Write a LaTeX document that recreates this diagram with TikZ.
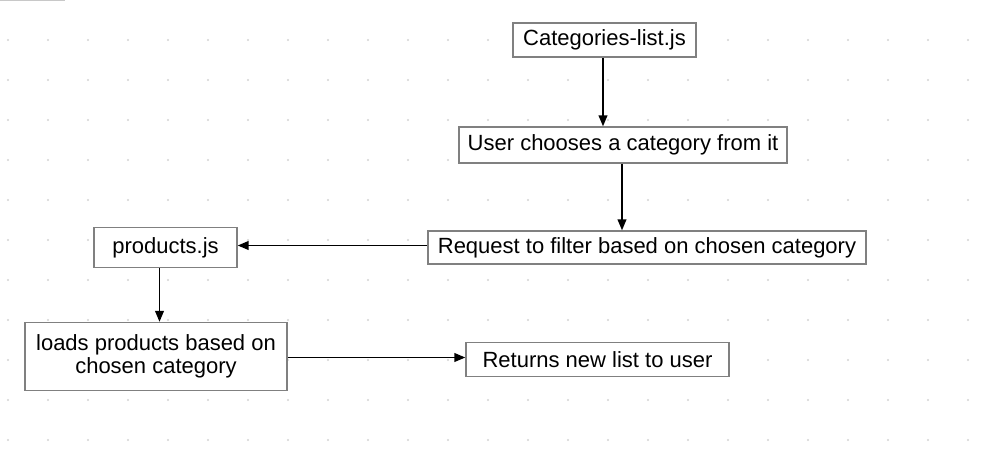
\documentclass[tikz,border=0pt]{standalone}
\usepackage{fontspec}
\setmainfont{Liberation Sans}
\usetikzlibrary{shapes,arrows,positioning}
\definecolor{boxgray}{HTML}{808080}
\definecolor{dotgray}{HTML}{D4D4D4}
\definecolor{edgegray}{HTML}{C8C8C8}

\begin{document}
\begin{tikzpicture}[%
    x=1pt, y=1pt,
    >=triangle 45,              % small filled heads
    node distance=100pt,        % centre to centre, nodes sit on grid
    ]
% -------------------------------------------------
% Box and line styles
\tikzset{
  base/.style={draw=boxgray, fill=white, line width=1.6pt, on grid, align=center,
    inner sep=0pt, font=\fontsize{22}{23.5}\selectfont},
  box/.style={base, rectangle},
  link/.style={->, line width=1.5pt},
  gdot/.style={fill=dotgray, draw=none}
}
\useasboundingbox (0,0) rectangle (1003,-452);
% -------------------------------------------------
% Dotted grid in the background
\foreach \i in {0,...,24}
  \foreach \j in {1,...,11}
    \fill[gdot] (8+40*\i,-40*\j) circle (1.1);
\draw[edgegray, line width=2pt] (0,-0.5) -- (65,-0.5);

% -------------------------------------------------
% Start by placing the nodes
\node [box, minimum width=183, minimum height=34] (cat) at (604.5,-40) {Categories-list.js};
\node [box, minimum width=328, minimum height=36, below=105pt of cat, xshift=18.5pt] (user) {User chooses a category from it};
\node [box, minimum width=438, minimum height=33, below=102.5pt of user, xshift=24pt] (req) {Request to filter based on chosen category};
\node [box, minimum width=143, minimum height=40, left=481.5pt of req] (prod) {products.js};
\node [box, minimum width=262, minimum height=68, below=109pt of prod, xshift=-9.5pt] (load) {loads products based on\\chosen category};
\node [box, minimum width=263, minimum height=34, right=441.5pt of load, yshift=-3pt] (ret) {Returns new list to user};

\draw[link] ([xshift=-1.5pt]cat.south) -- ([xshift=-1.5pt]cat.south |- user.north);	%Categories, User
\draw[link] ([xshift=-1pt]user.south) -- ([xshift=-1pt]user.south |- req.north);	%User, Request
\draw[link] ([yshift=2pt]req.west) -- ([yshift=2pt]req.west -| prod.east);	%Request, products
\draw[link] ([xshift=-6pt]prod.south) -- ([xshift=-6pt]prod.south |- load.north);	%products, loads
\draw[link] ([yshift=-1pt]load.east) -- ([yshift=-1pt]load.east -| ret.west);	%loads, Returns

% -------------------------------------------------
\end{tikzpicture}
\end{document}
